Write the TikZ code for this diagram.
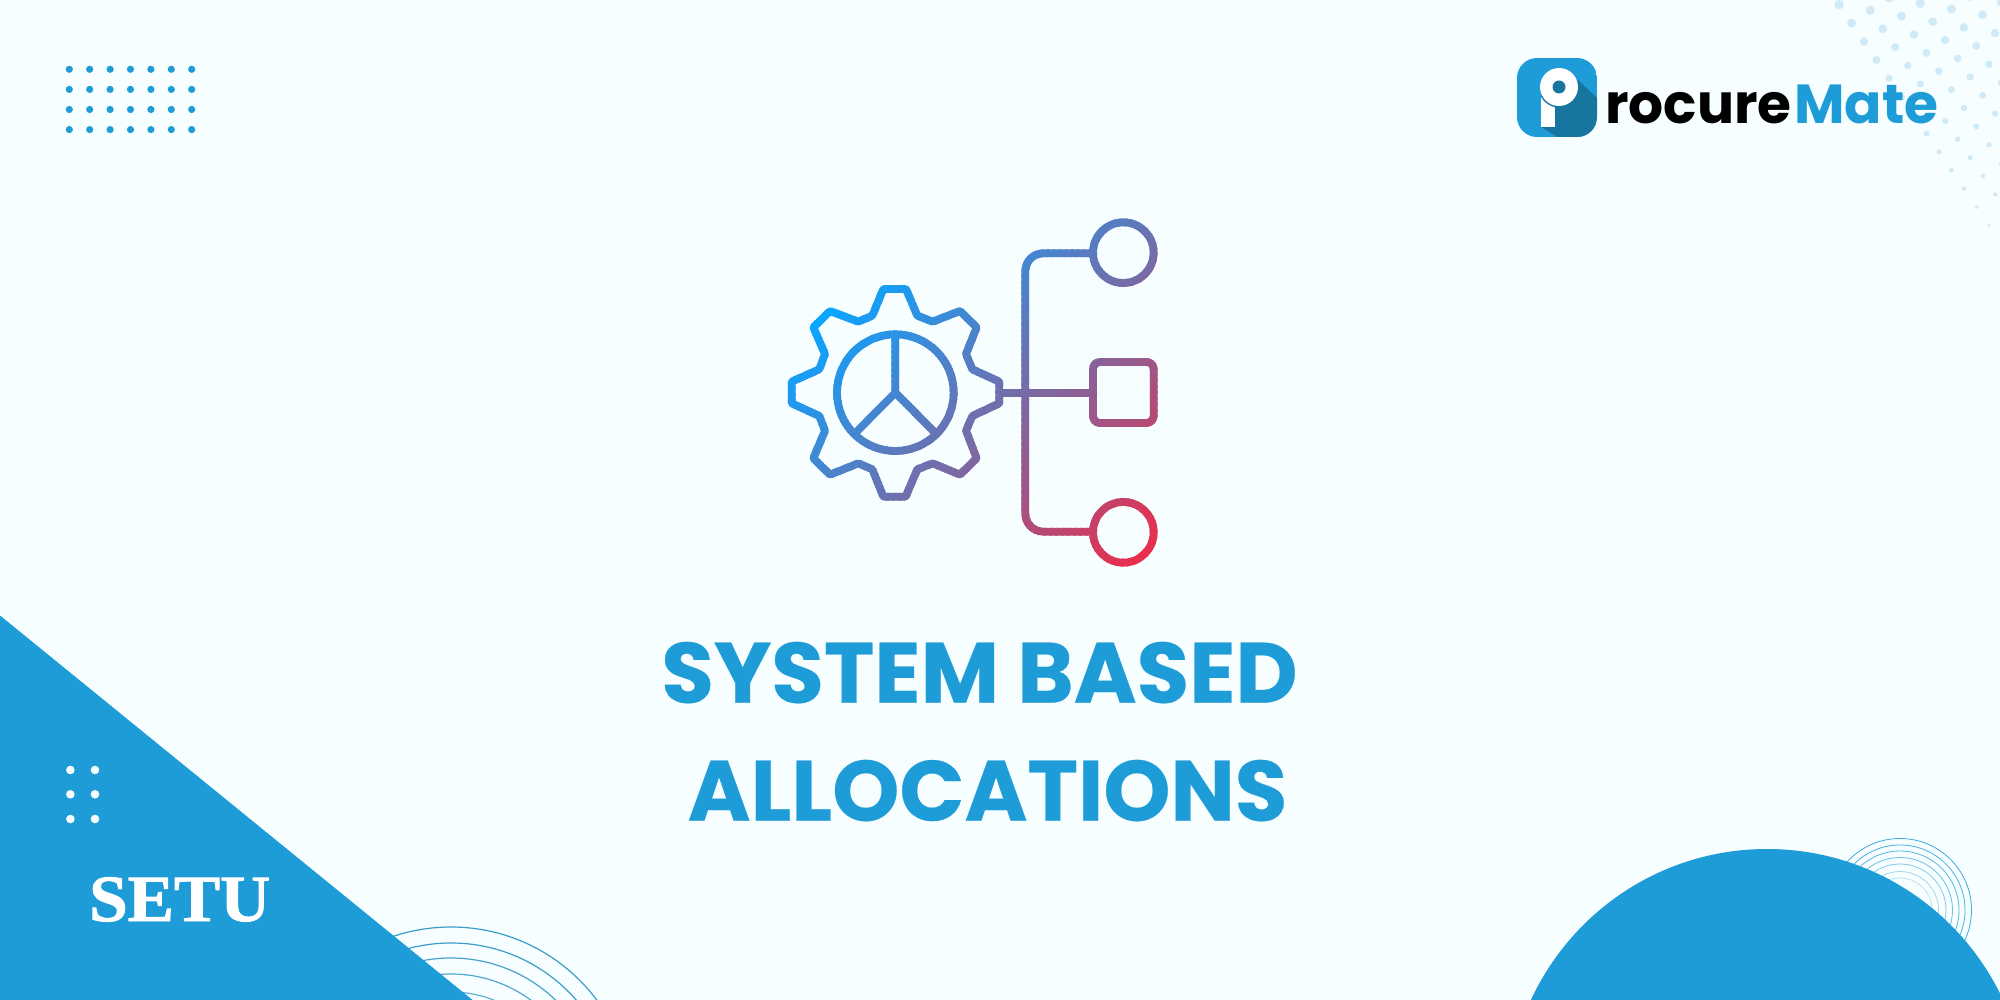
\documentclass[tikz,border=0pt]{standalone}
\usepackage{fontspec}
\newfontfamily\popfont{Poppins}
\newfontfamily\poptitle{Poppins}[BoldFeatures={FakeBold=0.3}]
\newfontfamily\lsfont{Liberation Serif}[BoldFeatures={FakeBold=1.4}]
\definecolor{bgc}{HTML}{F7FEFF}
\definecolor{brand}{HTML}{1D9CD8}
\definecolor{branddark}{HTML}{17759F}
\definecolor{dotc}{HTML}{D0EAF8}
\definecolor{ringc}{HTML}{3C9CCB}
\definecolor{gradA}{HTML}{0AA5FF}
\definecolor{gradB}{HTML}{EC2D4A}
\tikzset{
  titletext/.style={anchor=base,inner sep=0,text=brand,font=\fontsize{85.5}{85.5}\poptitle\bfseries},
  logotext/.style={anchor=base west,inner sep=0,font=\fontsize{55}{55}\popfont\bfseries},
  settext/.style={anchor=base west,inner sep=0,text=white,font=\fontsize{66}{66}\lsfont\bfseries},
  iconline/.style={line width=7.8,line join=round,line cap=round},
  ringl/.style={line width=1.2}
}
\newcommand{\iconpaths}{%
  \draw[iconline,rounded corners=1] (370,267)--(438,267)--(472,347)--(518,365)--(600,333)--(650,382)--(618,462)--(637,508)--(718,545)--(718,610)--(637,648)--(618,692)--(650,775)--(600,824)--(518,790)--(472,808)--(437,890)--(370,890)--(337,808)--(295,790)--(210,824)--(160,775)--(195,692)--(178,648)--(95,610)--(95,545)--(178,508)--(195,462)--(160,382)--(210,333)--(295,365)--(337,347)--cycle;
  \draw[iconline] (406,578) circle[radius=175];
  \draw[iconline] (406,405)--(406,578)--(290,695);
  \draw[iconline] (406,578)--(522,695);
  \draw[iconline] (718,578)--(1000,578);
  \draw[iconline,rounded corners=18] (1000,160)--(796,160)--(796,995)--(1000,995);
  \draw[iconline] (1090,158) circle[radius=91];
  \draw[iconline] (1090,997) circle[radius=91];
  \draw[iconline,rounded corners=7] (999,486) rectangle (1181,669);
}
\begin{document}
\begin{tikzpicture}[x=1pt,y=-1pt]
\useasboundingbox (0,0) rectangle (2000,1000);
\clip (0,0) rectangle (2000,1000);
\fill[bgc] (0,0) rectangle (2000,1000);

% top-right dot lattice
\foreach \i in {0,...,6}{
  \foreach \j in {-2,...,12}{
    \pgfmathsetmacro{\dx}{1839+31.2*\i+12.5*\j}
    \pgfmathsetmacro{\dy}{4.7+5.67*\i+18.4*\j}
    \pgfmathsetmacro{\dr}{min(4.7,4.7-0.25*\j-0.1*\i)}
    \fill[dotc] (\dx,\dy) circle[radius=\dr];
  }
}

% top-left dots
\foreach \i in {0,...,6}{
  \foreach \j in {0,...,3}{
    \fill[brand] ({69.3+20.4*\i},{69.3+20.1*\j}) circle[radius=3.6];
  }
}

% bottom-left rings and triangle
\foreach \r/\c in {182/100,166/100,151/95,135/90,117/80}{
  \draw[ringl,color=ringc!\c!white] (451,1109) circle[radius=\r];
}
\fill[brand] (0,615.5)--(472.5,1000)--(0,1000)--cycle;
\foreach \x in {70.4,95}{
  \foreach \y in {770,794.3,819}{
    \fill[bgc] (\x,\y) circle[radius=4.3];
  }
}
\node[settext] (setu) at (89,921) {\scalebox{1.05}[1]{SETU}};

% bottom-right rings and circle
\foreach \r/\c in {71.5/85,65/80,59/75,52.5/65,46/55,38.5/40,32/30}{
  \draw[line width=.8,color=brand!\c!white] (1900,910) circle[radius=\r];
}
\fill[brand] (1767,1109) circle[radius=260];

% logo
\begin{scope}
  \path[clip] (1517,58) [rounded corners=20] rectangle (1597,137);
  \fill[brand] (1517,58) rectangle (1597,137);
  \fill[branddark] (1578,80)--(1597,98)--(1597,137)--(1558,137)--(1541,127)--(1541,100)--cycle;
\end{scope}
\fill[white] (1541,96) rectangle (1555,127);
\begin{scope}
  \clip (1541,90) rectangle (1555,112);
  \fill[branddark] (1559,87) circle[radius=20.5];
\end{scope}
\fill[white] (1559,87) circle[radius=19];
\fill[branddark] (1559,87) circle[radius=6.5];
\node[logotext,text=black] (rocure) at (1605,124) {rocure};
\node[logotext,text=brand] (mate) at (1794,124) {Mate};

% title
\node[titletext] (title1) at (979.5,702.7) {SYSTEM BASED};
\node[titletext] (title2) at (987.5,820.7) {ALLOCATIONS};

% gradient icon: painted in narrow overlapping diagonal bands
\begin{scope}[shift={(760,200)},scale=0.33333]
\foreach \k in {0,...,94}{
  \pgfmathsetmacro{\s}{1140+6*\k}
  \pgfmathsetmacro{\p}{100*(1-\k/94)}
  \pgfmathsetmacro{\ts}{3*(\s-960)}
  \pgfmathsetmacro{\tt}{\ts+27}
  \begin{scope}
    \ifnum\k=0\relax
      \path[clip] ({\tt+100},-100)--({\tt-1300},1300)--(-3000,1300)--(-3000,-100)--cycle;
    \else
      \path[clip] ({\ts+100},-100)--({\tt+100},-100)--({\tt-1300},1300)--({\ts-1300},1300)--cycle;
    \fi
    \colorlet{bandc}{gradA!\p!gradB}
    \begin{scope}[color=bandc]
      \iconpaths
    \end{scope}
  \end{scope}
}
\end{scope}
\end{tikzpicture}
\end{document}
